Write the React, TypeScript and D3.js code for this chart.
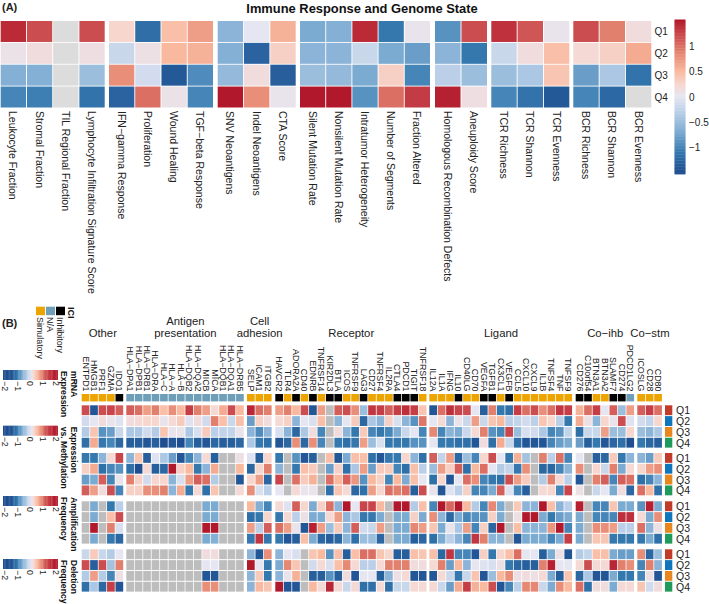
import React from "react";
import * as d3 from "d3";

const n = null;
const font = "'Liberation Sans', Arial, sans-serif";

// ---------- Panel A data ----------
const groupsA = [
  ["Leukocyte Fraction", "Stromal Fraction", "TIL Regional Fraction", "Lymphocyte Infiltration Signature Score"],
  ["IFN−gamma Response", "Proliferation", "Wound Healing", "TGF−beta Response"],
  ["SNV Neoantigens", "Indel Neoantigens", "CTA Score"],
  ["Silent Mutation Rate", "Nonsilent Mutation Rate", "Intratumor Heterogeneity", "Number of Segments", "Fraction Altered"],
  ["Homologous Recombination Defects", "Aneuploidy Score"],
  ["TCR Richness", "TCR Shannon", "TCR Evenness"],
  ["BCR Richness", "BCR Shannon", "BCR Evenness"],
];
const immuneQ1 = [1.4,1.2,n,1.2, .25,-1.2,.45,.7, -.6,0,.55, -.7,-.65,1.4,-1.1,.05, -.9,1.2, 1.35,1.15,.05, 1.2,.9,.15];
const immuneQ2 = [.07,.15,n,.12, -.2,.1,.5,.55, -.65,-1.3,.3, -.6,-.6,-.2,-.7,-.8, -.6,-1.1, -.2,.15,.45, .2,.3,.6];
const immuneQ3 = [-.65,-.65,n,-.5, .8,-.13,-1.4,-.95, -.55,.15,-1.35, -.5,-.55,-.7,.3,-1.0, -.3,-.5, -.5,-.4,.4, -.8,-.4,-1.15];
const immuneQ4 = [-1.0,-1.05,n,-1.15, -1.3,1.0,.07,-1.0, 1.5,.8,.05, 1.5,1.5,-.9,1.0,1.3, 1.45,.12, -1.0,-1.15,-1.4, -1.0,-1.25,n];
const legendTicksA = [1, 0.5, 0, -0.5, -1];

// ---------- Panel B data ----------
const quartiles = ["Q1", "Q2", "Q3", "Q4"];
const groupsB = [
  ["ENTPD1","HMGB1","PRF1","GZMA","IDO1"],
  ["HLA−DPA1","HLA−DPB1","HLA−DRB1","HLA−DRA","HLA−C","HLA−A","HLA−B","HLA−DQB2","HLA−DQA2","MICB","MICA","HLA−DQB1","HLA−DQA1","HLA−DRB5"],
  ["SELP","ICAM1","ITGB2"],
  ["HAVCR2","TLR4","ADORA2A","CD40","EDNRB","TNFRSF14","KIR2DL3","BTLA","ICOS","TNFRSF9","LAG3","CD27","TNFRSF4","IL2RA","CTLA4","PDCD1","TIGIT","TNFRSF18"],
  ["IL12A","IL1A","IFNG","IL10","CD40LG","CD70","VEGFA","TGFB1","CX3CL1","VEGFB","CCL5","CXCL10","CXCL9","IL1B","TNFSF4","TNF","TNFSF9"],
  ["CD276","C10orf54","BTN3A1","BTN3A2","SLAMF7","CD274","PDCD1LG2"],
  ["ICOSLG","CD28","CD80"],
];
const groupTitles = [["Other"],["Antigen","presentation"],["Cell","adhesion"],["Receptor"],["Ligand"],["Co−ihb"],["Co−stm"]];
const iciTypes = [
  "SSSSI",
  "NNNNNNNNNNNNNN",
  "SSS",
  "ISISISIISSISSSIIIS",
  "SSSISSIISISSSSSSS",
  "IISSIIN",
  "SSS",
];
const mrnaQ1 = [1.2,-1.5,1.2,1.3,1.1,
  1.1,1.0,.7,.9,.45,.8,.5,1.4,.9,.7,.2,.6,1.2,.5,
  1.7,1.0,.9,
  .7,.9,.5,1.2,-1.5,.7,n,1.1,1.2,.8,-.5,1.5,1.4,1.1,1.4,1.6,1.4,.4,
  -1.5,1.0,1.6,1.3,1.2,0,-1.4,.9,-1.1,-1.2,1.4,1.0,1.2,.8,1.0,1.5,1.4,
  .55,1.0,1.4,0,1.1,-.5,.7,
  1.1,1.4,1.0];
const mrnaQ2 = [-.15,0,.15,.05,-.05,
  .15,.2,.25,.25,.05,.2,.35,-.05,.15,-.15,.9,.45,-.2,.45,
  -.8,.3,.15,
  .2,.3,-.6,0,-.1,.45,n,-.6,0,.35,-1.3,-.4,-.6,.3,-.1,-.6,-.9,.95,
  0,.2,-.6,.05,-.2,.7,-.2,.4,.5,-.3,-.25,-.15,-.3,.4,.25,-.3,-1.1,
  .6,.1,-.6,.25,.05,1.2,-.05,
  -.15,-.25,.25];
const mrnaQ3 = [-.35,.4,-.9,-.8,-.2,
  -.4,-.4,-.15,-.35,.4,.05,.05,-.4,-.1,.35,-.3,-.25,-.25,.05,
  -.6,-.95,-.6,
  -.1,-.6,-1.3,-.4,.15,-1.0,n,.15,-.6,-1.1,.35,-1.0,-1.1,-1.0,-.7,-.2,0,-1.0,
  .85,-1.0,-.6,-.7,-.2,.2,.9,-.9,-1.0,1.3,-.5,-.1,-.15,-.4,-1.0,-.9,-.25,
  -1.2,-.2,-.2,.7,-.5,-.5,.25,
  -.5,-.6,-.4];
const mrnaQ4 = [-1.2,.6,-1.1,-1.0,-1.3,
  -1.4,-1.4,-1.5,-1.4,-1.6,-1.5,-1.6,-1.0,-1.4,-1.5,-1.3,-1.4,-1.4,-1.3,
  -.4,-1.1,-1.2,
  -1.5,-1.3,.8,-1.3,.8,-1.0,n,-1.1,-1.2,-1.1,.7,-.5,-.1,-1.1,-1.1,-1.1,-.9,-.9,
  0,-1.1,-1.1,-1.2,-1.2,-1.5,.15,-1.2,.6,-.2,-1.2,-1.5,-1.5,-1.5,-1.0,-.8,-.7,
  -.8,-1.4,-1.1,-1.5,-1.3,-1.2,-1.6,
  -1.1,-1.3,-1.4];
const methQ1 = [-1.1,-1.1,-.6,.2,1.3,
  -.6,.4,-1.4,-.05,-.4,-.8,-1.5,-1.0,-.6,.2,-1.4,n,n,.1,
  -.05,-1.4,.25,
  -1.1,n,-.9,-1.5,-1.4,n,.45,-1.5,-.7,.45,.45,-1.2,-1.5,-1.1,-1.1,.25,-.6,-1.2,
  1.1,-.25,.7,-1.3,-.5,-1.0,.25,1.2,0,-1.1,.55,-.45,n,.9,-.3,1.0,-1.0,
  0,n,-1.4,-1.3,.35,-1.1,-.6,
  -.6,-.8,.35];
const methQ2 = [.3,.6,-1.2,-1.0,-.9,
  -1.2,-1.6,.2,-1.4,-1.3,1.9,.3,.5,-1.1,-.6,.6,n,n,.5,
  -1.3,.25,.9,
  -.6,n,-1.1,.45,.35,n,-.8,.3,-1.2,-.4,.7,-.8,.35,.35,-1.0,-1.2,.45,-.3,
  -.5,.7,.3,1.1,-1.2,.5,1.0,0,-.35,-.25,-1.1,.8,n,-1.3,-1.3,-1.0,-.6,
  .8,n,.25,-.2,.9,-.7,.2,
  .25,.7,.8];
const methQ3 = [-.8,-.7,1.1,-1.0,.05,
  .9,.3,-.15,.25,.25,-.6,-.1,.7,1.1,1.0,-.35,n,n,-1.5,
  .25,.7,-1.3,
  1.3,n,1.0,.35,.55,n,1.0,.5,1.1,.75,-.9,.5,.3,-1.0,.5,-.7,.45,0,
  -1.2,.25,-1.5,0,1.0,.8,-1.0,-1.1,-1.2,1.2,.7,.35,n,-.35,.9,.2,-.3,
  -1.5,n,.9,1.1,-1.0,1.1,1.0,
  -1.2,-1.0,-.6];
const methQ4 = [1.1,.7,.15,1.2,-1.0,
  .3,.3,.8,.8,.9,-.6,.6,-1.1,.2,-1.2,.4,n,n,.2,
  .8,-.1,-.3,
  0,n,.2,.05,.05,n,-1.2,.4,.2,-1.3,-1.2,.7,.25,1.0,.9,1.0,-1.4,1.2,
  .05,-1.5,-.05,-.3,.3,-1.0,-1.0,-.7,1.1,-.05,-1.0,-1.4,n,.2,.25,-1.0,1.3,
  .1,n,-.2,0,-.7,.15,-1.3,
  1.0,.5,-1.2];
const ampQ1 = [n,-.7,n,-1.1,-.3,
  n,n,n,n,n,n,n,n,n,-.7,-.7,n,n,n,
  .5,-.65,-1.0,
  .2,-.05,1.1,.25,-.7,.3,1.0,-.6,1.9,0,1.3,1.3,.5,n,1.9,1.9,-.35,.45,
  -1.0,1.9,1.05,1.9,.5,-.35,-1.0,.85,-.7,n,.35,-.6,-.6,1.9,.45,-.6,-.3,
  1.8,n,-1.0,-1.0,.4,-.7,-.7,
  -.9,1.8,-.7];
const ampQ2 = [n,-.7,n,.45,1.2,
  n,n,n,n,n,n,n,n,n,-.7,-.7,n,n,n,
  -1.2,-1.1,.25,
  -1.1,.2,-.3,.1,-.7,-.7,.2,.7,-.6,-.4,-1.1,-1.1,-.7,n,-.7,-.7,.3,-.7,
  .8,-.6,-1.3,-.7,-1.0,-.9,-.9,.3,-.7,n,.1,1.9,1.9,-.7,-1.1,-.8,-.7,
  -.7,n,-1.0,-1.0,-1.0,1.6,1.6,
  .2,-.7,.8];
const ampQ3 = [n,1.9,n,.9,-.1,
  n,n,n,n,n,n,n,n,n,1.9,1.9,n,n,n,
  .7,-.3,1.1,
  1.0,.7,.05,-1.5,1.8,.7,-.5,.35,-.6,1.1,-.15,-.2,.7,n,-.7,-.7,.85,.7,
  .4,-.7,.05,-.4,.7,-1.0,.3,-1.3,1.9,n,.45,-.6,-.6,-.6,.75,1.9,-1.0,
  -.7,n,.8,.8,.7,-.3,-.3,
  1.0,-.6,.1];
const ampQ4 = [n,-.7,n,-1.1,-1.3,
  n,n,n,n,n,n,n,n,n,-.7,-.65,n,n,n,
  -1.1,1.5,-1.1,
  -1.1,-1.5,-1.4,.45,-.7,-1.3,-1.4,-1.3,-.6,-1.2,-.5,-.5,-1.3,n,-.7,-.7,-1.4,-1.3,
  -1.2,-.7,-.3,-.6,-1.0,1.5,.9,-.6,-.6,n,-1.5,-.7,-.7,-.7,-1.0,-.7,1.4,
  -.7,n,.4,.4,-1.1,-1.1,-1.1,
  -1.1,-.7,-1.2];
const delQ1 = [-.2,.35,-.2,-.35,0,
  n,n,n,n,n,n,n,n,n,.15,.15,n,n,n,
  -.6,-1.5,.8,
  -.6,0,-.1,n,.4,.5,-.9,.45,-1.4,.45,1.0,1.0,.4,.25,-1.4,-1.4,.45,.4,
  .45,-1.3,1.5,-1.0,-1.0,-1.5,.3,-1.1,.25,.45,1.0,0,0,-1.4,-.7,.1,-1.5,
  -.35,-.25,.45,.45,-.7,-.8,-.8,
  .8,-1.3,-.5];
const delQ2 = [1.2,-1.4,1.2,-.45,.9,
  n,n,n,n,n,n,n,n,n,0,0,n,n,n,
  1.9,0,-1.1,
  -.7,.85,.4,n,-.15,.2,-.1,.45,.85,.2,-.3,-.3,.2,.9,.9,.9,.15,.15,
  .2,.9,-.8,.5,-.6,0,-.05,-.1,.1,-1.1,-1.3,-1.4,-1.4,.9,1.8,0,0,
  .2,1.2,.2,.2,1.7,.9,.8,
  -1.0,.9,-.6];
const delQ3 = [-.35,.7,-.35,-1.0,.1,
  n,n,n,n,n,n,n,n,n,-1.5,-1.5,n,n,n,
  -.6,.35,-1.1,
  -.6,.05,.55,n,-1.4,-1.4,-.9,-1.4,.15,-1.5,0,0,-1.4,-.6,.1,.2,-1.5,-1.5,
  -1.5,.2,-.2,-1.1,-.2,.4,-1.5,-.5,.5,.8,.1,.15,.1,.2,-.7,-1.4,.4,
  -1.3,-.4,-1.5,-1.5,-.7,-1.1,-1.1,
  -1.0,.1,-1.5];
const delQ4 = [-1.2,-.4,-1.3,1.4,-1.5,
  n,n,n,n,n,n,n,n,n,.8,.8,n,n,n,
  -.6,.5,.4,
  1.9,-1.5,-1.5,n,.5,.2,1.7,.2,-.2,.2,-1.2,-1.2,.2,-1.2,-.2,-.2,.2,.2,
  .2,-.2,-.8,.6,1.4,.55,.5,1.2,-1.5,-1.0,-.3,.85,.85,-.2,-.7,.8,.5,
  1.0,-1.2,.15,.15,-.7,.2,.2,
  .4,-.15,.15];
const panelRows = [
  [mrnaQ1, mrnaQ2, mrnaQ3, mrnaQ4],
  [methQ1, methQ2, methQ3, methQ4],
  [ampQ1, ampQ2, ampQ3, ampQ4],
  [delQ1, delQ2, delQ3, delQ4],
];
const panelTitles = [["mRNA","Expression"],["Expression","vs. Methylation"],["Amplification","Frequency"],["Deletion","Frequency"]];
const legendTicksB = [-2,-1,0,1,2];

// ---------- Layout and colours ----------
const W = 709, H = 604;
const colorStopsV = [-1.6,-1.1,-.7,-.3,0,.25,.5,.85,1.2];
const colorStopsC = ["#1f4e90","#3478ae","#7cabd2","#bbd0e8","#e6e6f2","#f7d6ce","#f9b99f","#e68873","#cc4d50"];
const colorB = d3.scaleLinear<string>().domain([...colorStopsV,1.9]).range([...colorStopsC,"#b2182b"]).clamp(true);
const colorA = d3.scaleLinear<string>().domain([-1.5,-1.1,-.7,-.3,0,.25,.5,.85,1.2,1.5]).range([...colorStopsC,"#b2182b"]).clamp(true);
const iciColor: Record<string,string> = { S: "#eca400", N: "#6f9fb8", I: "#000000" };
const qColor = ["#c23b2a", "#0f75bc", "#e8871e", "#1f9a5b"];
const iciLegend = [["Simulatory","S"],["N/A","N"],["Inhibitory","I"]];

const groupStartsA = [0.7, 109, 217.7, 300, 435, 491.3, 573.3];
const stepA = 26;
const yA = d3.scaleBand<string>().domain(quartiles).range([21, 107.5]).paddingInner(0.04);
const barA = d3.scaleLinear().domain([-1.525, 1.525]).range([174, 20]);

const startsB = [81.7, 126.3, 247, 275.3, 429.3, 575.7, 637.3];
const stepB = 8.44;
const panelTops = [405.3, 453, 501.3, 549.3];
const rowStepB = 10.78;
const legendTops = [370, 425.7, 496, 559];
const barB = d3.scaleLinear().domain([-2.15, 2.1]).range([3, 57]);
const barSteps = d3.range(-2.15, 2.1, 0.1);

function App() {
  const xA = groupsA.map((g, i) => d3.scaleBand<string>().domain(g).range([groupStartsA[i], groupStartsA[i] + stepA * g.length]).paddingInner(0.035).paddingOuter(0.0));
  const xB = groupsB.map((g, i) => d3.scaleBand<string>().domain(g).range([startsB[i], startsB[i] + stepB * g.length - 0.7]).paddingInner(0.09));
  const allA = groupsA.flat();
  const immune = [immuneQ1, immuneQ2, immuneQ3, immuneQ4];
  const flatB = groupsB.flatMap((g, gi) => g.map((name, ni) => ({ name, gi, type: iciTypes[gi][ni] })));
  const yB = (p: number) => d3.scaleBand<string>().domain(quartiles).range([panelTops[p], panelTops[p] + rowStepB * 4 - 0.8]).paddingInner(0.09);
  const rot = (x: number, y: number) => `translate(${x},${y}) rotate(90)`;
  return (
    <svg width={W} height={H} viewBox={`0 0 ${W} ${H}`} style={{ position: "absolute", left: 0, top: 0, fontFamily: font }}>
      <rect width={W} height={H} fill="#fff" />
      <text x={2} y={11} fontSize={11} fontWeight="bold" fill="#222">(A)</text>
      <text x={362} y={13} fontSize={12.9} fontWeight="bold" textAnchor="middle" fill="#111">Immune Response and Genome State</text>
      <text x={2} y={327} fontSize={11} fontWeight="bold" fill="#222">(B)</text>

      {immune.map((row, r) => allA.map((name, c) => {
        const gi = groupsA.findIndex(g => g.includes(name));
        const v = row[c];
        return <rect key={name + r} x={xA[gi](name)} y={yA(quartiles[r])} width={xA[gi].bandwidth()} height={yA.bandwidth()} fill={v === null ? "#dcdcdc" : colorA(v)} />;
      }))}
      {groupsA.map((g, gi) => g.map(name => (
        <text key={name} transform={rot(xA[gi](name)! + xA[gi].bandwidth() / 2, 111)} fontSize={10.5} dominantBaseline="central" fill="#222">{name}</text>
      )))}
      {quartiles.map(q => (
        <text key={q} x={654.5} y={yA(q)! + yA.bandwidth() / 2} fontSize={10} dominantBaseline="central" fill="#222">{q}</text>
      ))}
      {d3.range(-1.525, 1.525, 0.03).map(v => (
        <rect key={v} x={674.5} y={barA(v + 0.03)} width={11} height={barA(v) - barA(v + 0.03) + 0.4} fill={colorA(v)} />
      ))}
      {legendTicksA.map(t => (
        <text key={t} x={689} y={barA(t)} fontSize={10} dominantBaseline="central" fill="#222">{String(t).replace("-", "−")}</text>
      ))}

      {/* ICI legend */}
      <text transform={rot(71, 307)} fontSize={9} fontWeight="bold" dominantBaseline="central" fill="#111">ICI</text>
      {iciLegend.map(([label, k], i) => (
        <g key={label}>
          <rect x={36 + i * 10} y={306.7} width={9} height={8.5} fill={iciColor[k]} />
          <text transform={rot(40 + i * 10, 317)} fontSize={8.9} dominantBaseline="central" fill="#222">{label}</text>
        </g>
      ))}

      {groupTitles.map((lines, gi) => {
        const cx = startsB[gi] + stepB * groupsB[gi].length / 2;
        return lines.map((l, i) => (
          <text key={l} x={cx} y={337 - (lines.length - 1 - i) * 12} fontSize={11.3} textAnchor="middle" fill="#222">{l}</text>
        ));
      })}

      {flatB.map(({ name, gi, type }) => (
        <g key={name}>
          <text transform={rot(xB[gi](name)! + xB[gi].bandwidth() / 2, 391.5)} fontSize={8.9} textAnchor="end" dominantBaseline="central" fill="#222">{name}</text>
          <rect x={xB[gi](name)} y={394} width={xB[gi].bandwidth()} height={7.4} fill={iciColor[type]} />
        </g>
      ))}

      {panelRows.map((rows, p) => {
        const y = yB(p);
        return (
          <g key={p}>
            {rows.map((row, r) => flatB.map(({ name, gi }, c) => {
              const v = row[c];
              return <rect key={name + r} x={xB[gi](name)} y={y(quartiles[r])} width={xB[gi].bandwidth()} height={y.bandwidth()} fill={v === null || v === undefined ? "#bdbdbd" : colorB(v)} />;
            }))}
            {quartiles.map((q, r) => (
              <g key={q}>
                <rect x={665} y={y(q)} width={7.3} height={y.bandwidth()} fill={qColor[r]} />
                <text x={676} y={y(q)! + y.bandwidth() / 2} fontSize={10.5} dominantBaseline="central" fill="#222">{q}</text>
              </g>
            ))}
            {barSteps.map(v => (
              <rect key={v} x={barB(v)} y={legendTops[p]} width={barB(v + 0.1) - barB(v) + 0.3} height={10} fill={colorB(v)} />
            ))}
            {legendTicksB.map(t => (
              <text key={t} transform={rot(barB(t), legendTops[p] + 11)} fontSize={8.8} dominantBaseline="central" fill="#222">{String(t).replace("-", "−")}</text>
            ))}
            {panelTitles[p].map((l, i) => (
              <text key={l} transform={rot(74 - i * 10.5, legendTops[p] + 1)} fontSize={8.6} fontWeight="bold" dominantBaseline="central" fill="#111">{l}</text>
            ))}
          </g>
        );
      })}
    </svg>
  );
}

export default App;
